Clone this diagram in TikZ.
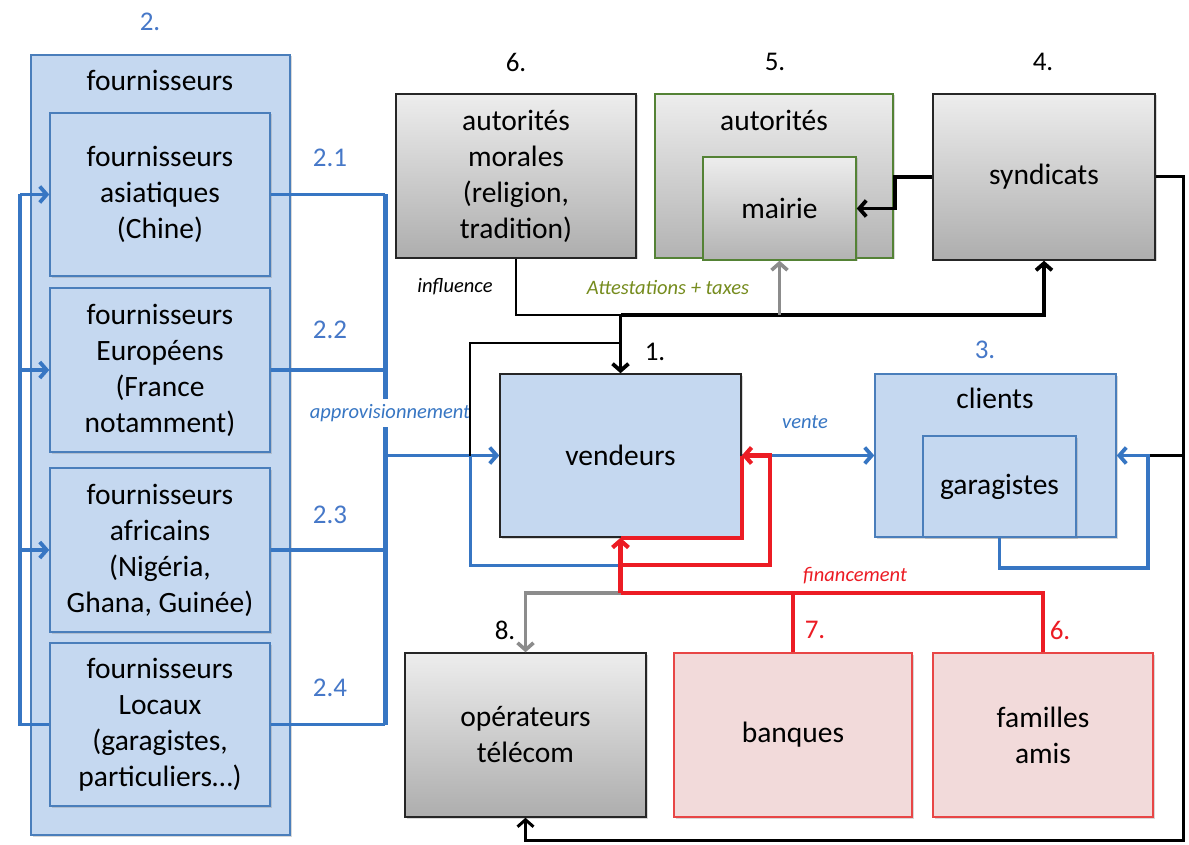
\documentclass[tikz,border=0pt]{standalone}
\usepackage{fontspec}
\setmainfont{Carlito}
\usetikzlibrary{arrows.meta,shadows}
\definecolor{bfill}{RGB}{197,216,240}
\definecolor{bdraw}{RGB}{74,126,187}
\definecolor{bline}{RGB}{55,118,195}
\definecolor{rline}{RGB}{236,28,36}
\definecolor{pfill}{RGB}{242,218,218}
\definecolor{pdraw}{RGB}{232,70,70}
\definecolor{gdraw}{RGB}{84,130,53}
\definecolor{olivetxt}{RGB}{118,140,30}
\definecolor{gline}{RGB}{140,140,140}
\definecolor{numblue}{RGB}{70,120,200}
\tikzset{
  mainfont/.style={font=\fontsize{29.5}{36}\selectfont},
  numfont/.style={font=\fontsize{27}{32}\selectfont},
  itfont/.style={font=\fontsize{20.5}{24}\selectfont\itshape},
  box/.style={rectangle, inner sep=0pt, align=center, mainfont, line width=1.5pt,
    drop shadow={shadow xshift=1.5pt, shadow yshift=-1.5pt, opacity=0.3}},
  bluebox/.style={box, draw=bdraw, fill=bfill},
  graybox/.style={box, draw=black!85, top color=black!7, bottom color=black!32},
  greenbox/.style={box, draw=gdraw, top color=black!7, bottom color=black!30},
  pinkbox/.style={box, draw=pdraw, fill=pfill},
  arr/.style={-{Straight Barb[length=7pt,width=16pt]}},
  bl/.style={draw=bline, line width=3.8pt},
  blbus/.style={draw=bline, line width=5pt},
  blthin/.style={draw=bline, line width=3pt},
  thk/.style={draw=black, line width=3.8pt},
  thk2/.style={draw=black, line width=3pt},
  thinblk/.style={draw=black, line width=1.6pt},
  rd/.style={draw=rline, line width=4.2pt},
  gr/.style={draw=gline, line width=3.6pt},
  lbl/.style={inner sep=1pt},
}
\begin{document}
\begin{tikzpicture}[x=1pt,y=-1pt]
\useasboundingbox (0,0) rectangle (1189,845);
\fill[white] (0,0) rectangle (1189,845);

% fournisseurs
\node[bluebox, minimum width=259pt, minimum height=780pt] (four) at (160.5,445) {};
\node[mainfont] (fourt) at (160,80) {fournisseurs};
\node[bluebox, minimum width=220pt, minimum height=163pt] (f1) at (160,194.5) {fournisseurs\\asiatiques\\(Chine)};
\node[bluebox, minimum width=220pt, minimum height=164pt] (f2) at (160,370) {fournisseurs\\Européens\\(France\\notamment)};
\node[bluebox, minimum width=220pt, minimum height=164pt] (f3) at (160,550) {fournisseurs\\africains\\(Nigéria,\\Ghana, Guinée)};
\node[bluebox, minimum width=220pt, minimum height=163pt] (f4) at (160,724.5) {fournisseurs\\Locaux\\(garagistes,\\particuliers…)};

% top row
\node[graybox, minimum width=240pt, minimum height=164pt] (mor) at (516,176) {autorités\\morales\\(religion,\\tradition)};
\node[greenbox, minimum width=238pt, minimum height=164pt] (aut) at (774,176) {};
\node[mainfont] (autt) at (774,120) {autorités};
\node[greenbox, minimum width=153pt, minimum height=103pt] (mairie) at (779.5,208.5) {mairie};
\node[graybox, minimum width=222pt, minimum height=166pt] (synd) at (1044,177) {syndicats};

% middle row
\node[box, draw=black!85, fill=bfill, minimum width=241pt, minimum height=163pt] (vend) at (620.5,455.5) {vendeurs};
\node[bluebox, minimum width=241pt, minimum height=163pt] (clients) at (995.5,455.5) {};
\node[mainfont] (clt) at (995,398) {clients};
\node[bluebox, minimum width=153pt, minimum height=101pt] (gar) at (999.5,486.5) {garagistes};

% bottom row
\node[graybox, minimum width=241pt, minimum height=164pt] (oper) at (525.5,735) {opérateurs\\télécom};
\node[pinkbox, minimum width=238pt, minimum height=164pt] (ban) at (793,735) {banques};
\node[pinkbox, minimum width=220pt, minimum height=164pt] (fam) at (1043,735) {familles\\amis};

% number labels
\node[numfont, text=numblue] (n2) at (150,22) {2.};
\node[numfont, text=numblue] (n21) at (330,158) {2.1};
\node[numfont, text=numblue] (n22) at (330,330) {2.2};
\node[numfont, text=numblue] (n23) at (330,515) {2.3};
\node[numfont, text=numblue] (n24) at (330,688) {2.4};
\node[numfont] (n1) at (655,352) {1.};
\node[numfont, text=numblue] (n3) at (985,350) {3.};
\node[numfont] (n4) at (1043,62) {4.};
\node[numfont] (n5) at (775,62) {5.};
\node[numfont] (n6) at (516,62) {6.};
\node[numfont] (n8) at (505,630) {8.};
\node[numfont, text=rline] (n7) at (815,630) {7.};
\node[numfont, text=rline] (n6b) at (1060,630) {6.};

% left feedback
\draw[bl] (f4.west) -- ++(-29,0) coordinate (lc) -- (lc |- f1.west);
\draw[bl,arr] (lc |- f1.west) -- (f1.west);
\draw[bl,arr] (lc |- f2.west) -- (f2.west);
\draw[bl,arr] (lc |- f3.west) -- (f3.west);

% supply bus
\coordinate (bus) at (385,455.5);
\draw[bl] (f1.east) -- (f1.east -| bus);
\draw[bl] (f2.east) -- (f2.east -| bus);
\draw[bl] (f3.east) -- (f3.east -| bus);
\draw[bl] (f4.east) -- (f4.east -| bus);
\draw[blbus] (f1.east -| bus) -- (f4.east -| bus);
\draw[bl,arr] (vend.west -| bus) -- (vend.west);
\node[itfont, text=bline, fill=white, lbl, inner ysep=5pt] (appro) at (390,413) {approvisionnement};

% loop around vendeurs (left)
\draw[thinblk] (vend.north |- 0,343) -- (470,343) -- (470,455.5);
\draw[blthin] (470,455.5) -- (470,565) -- (vend.south |- 0,565);

% authorities connections
\coordinate (hj) at (620.5,315);
\draw[thinblk] (mor.south) |- (hj);
\draw[thk,arr] (hj) -- (vend.north);
\draw[thk,arr] (hj) -| (synd.south);
\draw[gr,arr] (hj -| mairie.south) -- (mairie.south);
\draw[thk,arr] (synd.west) -- ++(-37,0) |- (mairie.east);
\node[itfont] (infl) at (455,287) {influence};
\node[itfont, text=olivetxt] (att) at (668,287) {Attestations + taxes};

% right side
\draw[thk2,arr] (synd.east) -- ++(28,0) coordinate (rc) -- (rc |- 0,840) -| (oper.south);
\draw[thk2] (rc |- clients.east) -- ++(-36,0) coordinate (cj);
\draw[bl,arr] (gar.south) -- ++(0,30) -| (cj) -- (clients.east);

% vente
\draw[bl,arr] (vend.east) -- (clients.west);
\node[itfont, text=bline] (vente) at (805,422) {vente};

% financement
\coordinate (rb) at (620.5,593);
\draw[gr,arr] (rb) -| (oper.north);
\draw[rd] (rb) -- (rb -| fam.north) -- (fam.north);
\draw[rd] (rb -| ban.north) -- (ban.north);
\draw[rd,arr] (rb) -- (vend.south);
\draw[rd] (vend.east) -- (vend.south east) -- (vend.south);
\draw[rd,arr] (vend.south |- 0,565) -- (770,565) |- (vend.east);
\node[itfont, text=rline] (fin) at (855,576) {financement};
\end{tikzpicture}
\end{document}
